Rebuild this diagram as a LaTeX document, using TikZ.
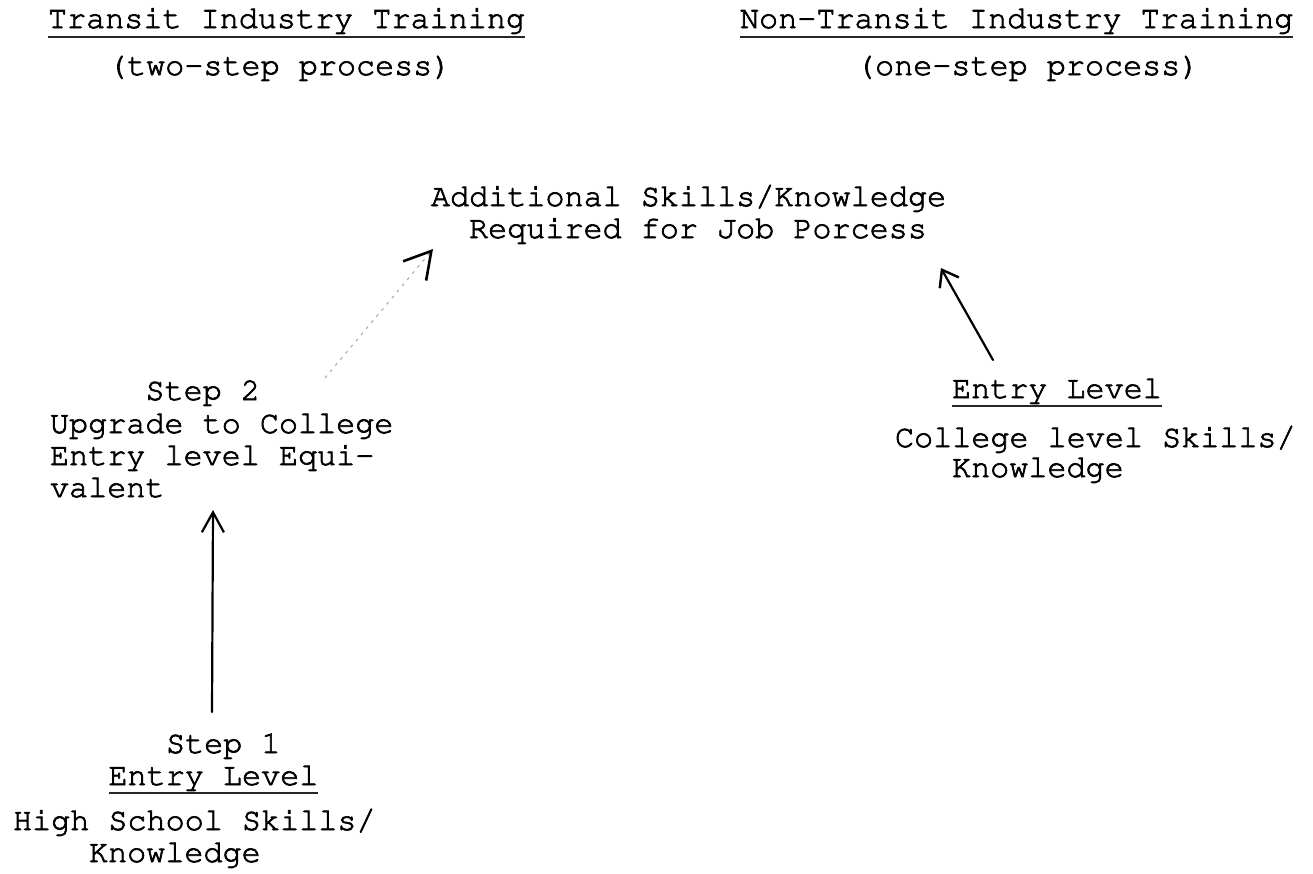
\documentclass[tikz,border=0pt]{standalone}
\usepackage[T1]{fontenc}
\usepackage{courier}
\usetikzlibrary{arrows.meta}
% typewriter ink: fill and stroke the glyph outlines for a slightly heavier face
\newcommand\inkon{\special{pdf:literal direct 2 Tr 0.7 w}}
\newcommand\inkoff{\special{pdf:literal direct 0 Tr}}
\begin{document}
\begin{tikzpicture}[x=1pt,y=-1pt,
  txt/.style={anchor=base west, inner sep=0pt, outer sep=0pt,
    font=\fontsize{31.8}{32}\selectfont\ttfamily\inkon,
    execute at end node=\inkoff},
  uline/.style={line width=1.8pt, black!85},
  pen/.style={line width=2.2pt, line cap=round},
  barbV/.style={-{Straight Barb[length=20pt,width=22pt,line width=2.2pt]}},
  barbR/.style={-{Straight Barb[length=15pt,width=22pt,line width=2.4pt]}},
  barbD/.style={-{Straight Barb[length=26pt,width=30pt,line width=2.6pt,color=black]}},
  dots/.style={line width=1pt, gray!70, dash pattern=on 3pt off 5pt},
]
\useasboundingbox (0,0) rectangle (1313,873);

% headings
\node[txt] (ttl1) at (48,28) {Transit Industry Training};
\node[txt] (sub1) at (108,75) {(two-step process)};
\node[txt] (ttl2) at (740,28) {Non-Transit Industry Training};
\node[txt] (sub2) at (856,75) {(one-step process)};
\draw[uline] ([shift={(0,9)}]ttl1.base west) -- ([shift={(0,9)}]ttl1.base east);
\draw[uline] ([shift={(0,9)}]ttl2.base west) -- ([shift={(0,9)}]ttl2.base east);

% goal
\node[txt] (add1) at (431,206) {Additional Skills/Knowledge};
\node[txt] (add2) at (469,238) {Required for Job Porcess};

% step 2
\node[txt] (s2a) at (145.5,400) {Step 2};
\node[txt] (s2b) at (50,433) {Upgrade to College};
\node[txt] (s2c) at (50,465) {Entry level Equi-};
\node[txt] (s2d) at (50,497) {valent};

% step 1
\node[txt] (s1a) at (166,753) {Step 1};
\node[txt] (s1b) at (108.5,785) {Entry Level};
\node[txt] (s1c) at (13,830) {High School Skills/};
\node[txt] (s1d) at (89,862) {Knowledge};
\draw[uline] ([shift={(0,8)}]s1b.base west) -- ([shift={(0,8)}]s1b.base east);

% non-transit entry level
\node[txt] (r1) at (952,398) {Entry Level};
\node[txt] (r2) at (895,447) {College level Skills/};
\node[txt] (r3) at (952,477) {Knowledge};
\draw[uline] ([shift={(0,8)}]r1.base west) -- ([shift={(0,8)}]r1.base east);

% connectors
\draw[pen, barbV] ([shift={(46,-41)}]s1a.base west) -- ([shift={(163,13)}]s2d.base west);
\draw[dots, barbD] ([shift={(275,-55)}]s2b.base west) -- ([shift={(-36,11)}]add2.base west);
\draw[pen, barbR] ([shift={(41,-38)}]r1.base west) -- ([shift={(14,30)}]add2.base east);
\end{tikzpicture}
\end{document}
